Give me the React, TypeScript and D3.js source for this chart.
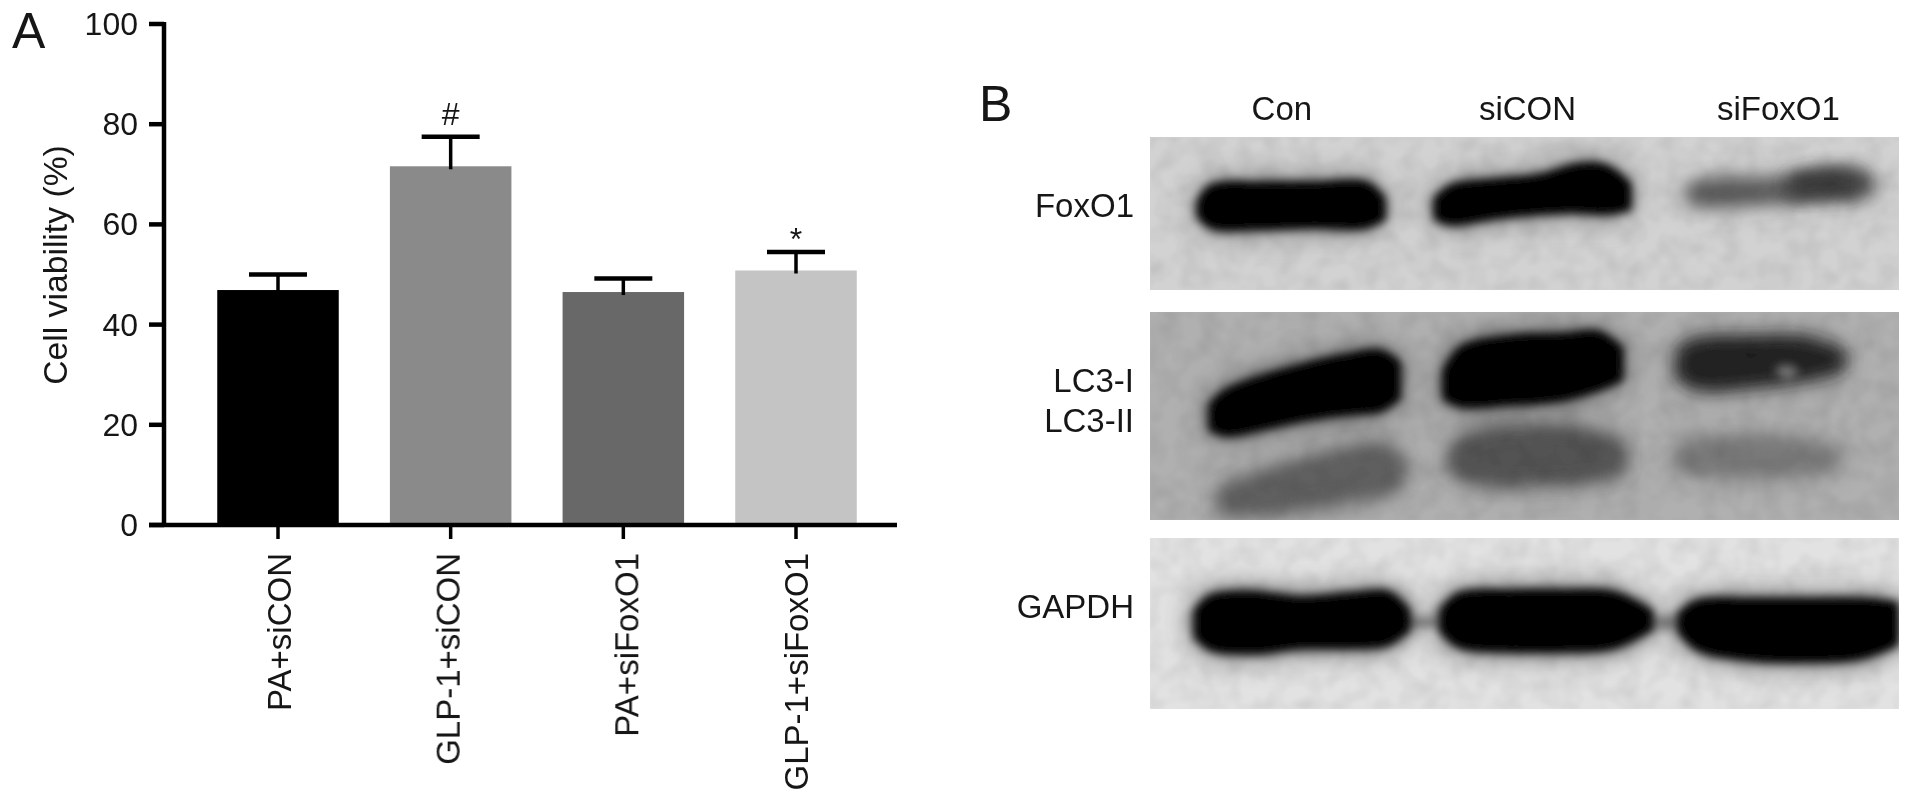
import React from "react";
import * as d3 from "d3";

// Panel A data
const categories = ["PA+siCON", "GLP-1+siCON", "PA+siFoxO1", "GLP-1+siFoxO1"];
const viability = [46.9, 71.6, 46.5, 50.8];
const errorTop = [50.0, 77.5, 49.2, 54.5];
const barFills = ["#000000", "#8a8a8a", "#686868", "#c4c4c4"];
const marks = ["", "#", "", "*"];
const yTicks = [0, 20, 40, 60, 80, 100];
const labelShift = [13, 9, 15, 12];

// Panel B data
const lanes = ["Con", "siCON", "siFoxO1"];
const lanePct = [17.6, 50.4, 83.9];
const panelBg = ["#d2d2d2", "#b0b0b0", "#e2e2e2"];
type P = [number, number, number];
const foxCon: P[] = [[6.2,42,52],[8,31,60],[15,29,61],[22,29,60],[29,29,60],[31.5,40,54]];
const foxSi: P[] = [[37.8,40,54],[40,31,58],[46,27,54],[52,24,51],[57,17,50],[61,18,51],[64.3,30,48]];
const foxKdA: P[] = [[71.5,31,43],[75,27,46],[82,27,44],[86,25,43],[90,21,41],[95,22,40],[97,28,36]];
const foxKdB: P[] = [[85,26,40],[88,22,40],[92,22,39],[95,24,37]];
const lc1Con: P[] = [[7.8,44,57],[10,37,60],[15,30,57],[20,25,53],[26,20,50],[31,18,48],[33.5,24,42]];
const lc2Con: P[] = [[9,86,97],[14,78,97],[20,72,95],[26,66,91],[31,64,88],[34,70,82]];
const lc1Si: P[] = [[39,28,42],[41.5,16,46],[48,11,45],[55,10,43],[60,9,38],[63.2,17,33]];
const lc2Si: P[] = [[40,64,78],[45,56,83],[52,55,83],[58,56,82],[63.5,63,77]];
const lc1Kd: P[] = [[70.3,18,32],[73,13,37],[80,12,36],[87,12,33],[91,16,30],[92.8,19,28]];
const lc1Spot: P[] = [[83.5,27,29],[85,25,33],[86.5,27,30]];
const lc2Kd: P[] = [[70,64,76],[75,60,79],[82,60,79],[88,62,78],[92,65,75]];
const gapCon: P[] = [[5.8,42,58],[8,33,66],[14,31,68],[20,34,65],[26,32,65],[32,31,63],[34.8,42,54]];
const gapSi: P[] = [[38.6,42,55],[41,32,64],[48,30,67],[55,30,67],[62,31,65],[67.2,42,54]];
const gapKd: P[] = [[70.4,44,55],[73,36,66],[80,35,72],[88,35,73],[95,35,71],[100,37,63]];
const gapLink: P[] = [[33,46,52],[40,46,52],[66,46,53],[72,46,53]];
const bands: { panel: number; shape: P[]; fill: string; halo: number; soft: boolean }[] = [
  { panel: 0, shape: foxCon, fill: "#020202", halo: 0.5, soft: false },
  { panel: 0, shape: foxSi, fill: "#020202", halo: 0.5, soft: false },
  { panel: 0, shape: foxKdA, fill: "#5c5c5c", halo: 0.2, soft: true },
  { panel: 0, shape: foxKdB, fill: "#3a3a3a", halo: 0, soft: true },
  { panel: 1, shape: lc1Con, fill: "#020202", halo: 0.5, soft: false },
  { panel: 1, shape: lc2Con, fill: "#5e5e5e", halo: 0.3, soft: true },
  { panel: 1, shape: lc1Si, fill: "#020202", halo: 0.5, soft: false },
  { panel: 1, shape: lc2Si, fill: "#525252", halo: 0.3, soft: true },
  { panel: 1, shape: lc1Kd, fill: "#242424", halo: 0.35, soft: true },
  { panel: 1, shape: lc1Spot, fill: "#707070", halo: 0, soft: false },
  { panel: 1, shape: lc2Kd, fill: "#787878", halo: 0.15, soft: true },
  { panel: 2, shape: gapLink, fill: "#777777", halo: 0, soft: false },
  { panel: 2, shape: gapCon, fill: "#000000", halo: 0.65, soft: false },
  { panel: 2, shape: gapSi, fill: "#000000", halo: 0.65, soft: false },
  { panel: 2, shape: gapKd, fill: "#000000", halo: 0.65, soft: false },
];
const rowLabels = [
  { text: "FoxO1", panel: 0, pct: 52 },
  { text: "LC3-I", panel: 1, pct: 38.5 },
  { text: "LC3-II", panel: 1, pct: 57.7 },
  { text: "GAPDH", panel: 2, pct: 46.8 },
];

const W = 1913, H = 803;
const FONT = "'Liberation Sans', Arial, sans-serif";
const INK = "#161616";
const y = d3.scaleLinear().domain([0, 100]).range([525, 24]);
const x = d3.scalePoint<string>().domain(categories).range([278, 796]);
const barW = 121.5;
const px = d3.scaleLinear().domain([0, 100]).range([1150, 1899]);
const panelTop = [137, 312, 538];
const panelBottom = [290, 520, 709];
const py = panelTop.map((t, i) => d3.scaleLinear().domain([0, 100]).range([t, panelBottom[i]]));

const bandPath = (panel: number, s: P[]) =>
  d3.area<P>()
    .x((d) => px(d[0]))
    .y0((d) => py[panel](d[1]))
    .y1((d) => py[panel](d[2]))
    .curve(d3.curveCatmullRom.alpha(0.5))(s) as string;

export default function App() {
  return (
    <svg
      width={W}
      height={H}
      viewBox={`0 0 ${W} ${H}`}
      style={{ position: "absolute", left: 0, top: 0, background: "#fff" }}
      fontFamily={FONT}
    >
      <defs>
        <filter id="soft" x="-2%" y="-2%" width="104%" height="104%">
          <feGaussianBlur stdDeviation="0.7" />
        </filter>
        <filter id="core" x="-30%" y="-80%" width="160%" height="260%">
          <feGaussianBlur stdDeviation="5" />
        </filter>
        <filter id="wide" x="-30%" y="-100%" width="160%" height="300%">
          <feGaussianBlur stdDeviation="8" />
        </filter>
        <filter id="halo" x="-40%" y="-150%" width="180%" height="400%">
          <feGaussianBlur stdDeviation="15" />
        </filter>
        <filter id="grain" x="0" y="0" width="100%" height="100%">
          <feTurbulence type="fractalNoise" baseFrequency="0.05" numOctaves={2} seed={4} />
          <feColorMatrix values="0 0 0 0 0  0 0 0 0 0  0 0 0 0 0  1.4 0 0 0 -0.5" />
          <feGaussianBlur stdDeviation="1.5" />
        </filter>
        {panelTop.map((t, i) => (
          <clipPath id={`clip${i}`} key={i}>
            <rect x={px(0)} y={t} width={px(100) - px(0)} height={panelBottom[i] - t} />
          </clipPath>
        ))}
      </defs>

      <g filter="url(#soft)">
        {/* Panel A */}
        <text x={12} y={48} fontSize={50} fill={INK}>A</text>
        {categories.map((c, i) => (
          <g key={c}>
            <rect x={x(c)! - barW / 2} y={y(viability[i])} width={barW} height={y(0) - y(viability[i])} fill={barFills[i]} />
            <line x1={x(c)} x2={x(c)} y1={y(viability[i]) + 3} y2={y(errorTop[i])} stroke="#000" strokeWidth={3.5} />
            <line x1={x(c)! - 29} x2={x(c)! + 29} y1={y(errorTop[i])} y2={y(errorTop[i])} stroke="#000" strokeWidth={4.5} />
            {marks[i] && (
              <text x={x(c)} y={y(errorTop[i]) - (marks[i] === "#" ? 12 : 2)} textAnchor="middle" fontSize={32} fill={INK}>
                {marks[i]}
              </text>
            )}
            <line x1={x(c)} x2={x(c)} y1={y(0)} y2={539} stroke="#000" strokeWidth={3.5} />
            <text
              transform={`translate(${x(c)! + labelShift[i]},553) rotate(-90)`}
              textAnchor="end"
              fontSize={33}
              fill={INK}
            >
              {c}
            </text>
          </g>
        ))}
        <line x1={164} x2={164} y1={y(100) - 2} y2={y(0) + 2} stroke="#000" strokeWidth={4.5} />
        <line x1={149} x2={897} y1={y(0)} y2={y(0)} stroke="#000" strokeWidth={4.5} />
        {yTicks.map((t) => (
          <g key={t}>
            <line x1={149} x2={164} y1={y(t)} y2={y(t)} stroke="#000" strokeWidth={4.5} />
            <text x={138} y={y(t) + 11} textAnchor="end" fontSize={32} fill={INK}>{t}</text>
          </g>
        ))}
        <text transform="translate(67,265) rotate(-90)" textAnchor="middle" fontSize={33.7} fill={INK}>
          Cell viability (%)
        </text>

        {/* Panel B */}
        <text x={979} y={121} fontSize={50} fill={INK}>B</text>
        {lanes.map((l, i) => (
          <text key={l} x={px(lanePct[i])} y={120} textAnchor="middle" fontSize={33} fill={INK}>{l}</text>
        ))}
        {panelTop.map((t, i) => (
          <g key={i} clipPath={`url(#clip${i})`}>
            <rect x={px(0)} y={t} width={px(100) - px(0)} height={panelBottom[i] - t} fill={panelBg[i]} />
            <g filter="url(#halo)">
              {bands.filter((b) => b.panel === i && b.halo > 0).map((b, j) => (
                <path key={j} d={bandPath(i, b.shape)} fill="#000" opacity={b.halo} />
              ))}
            </g>
            {bands.filter((b) => b.panel === i).map((b, j) => (
              <path key={j} d={bandPath(i, b.shape)} fill={b.fill} filter={b.soft ? "url(#wide)" : "url(#core)"} />
            ))}
            <rect
              x={px(0)}
              y={t}
              width={px(100) - px(0)}
              height={panelBottom[i] - t}
              filter="url(#grain)"
              opacity={0.1}
            />
          </g>
        ))}
        {rowLabels.map((r) => (
          <text key={r.text} x={1134} y={py[r.panel](r.pct)} textAnchor="end" fontSize={33} fill={INK}>
            {r.text}
          </text>
        ))}
      </g>
    </svg>
  );
}
